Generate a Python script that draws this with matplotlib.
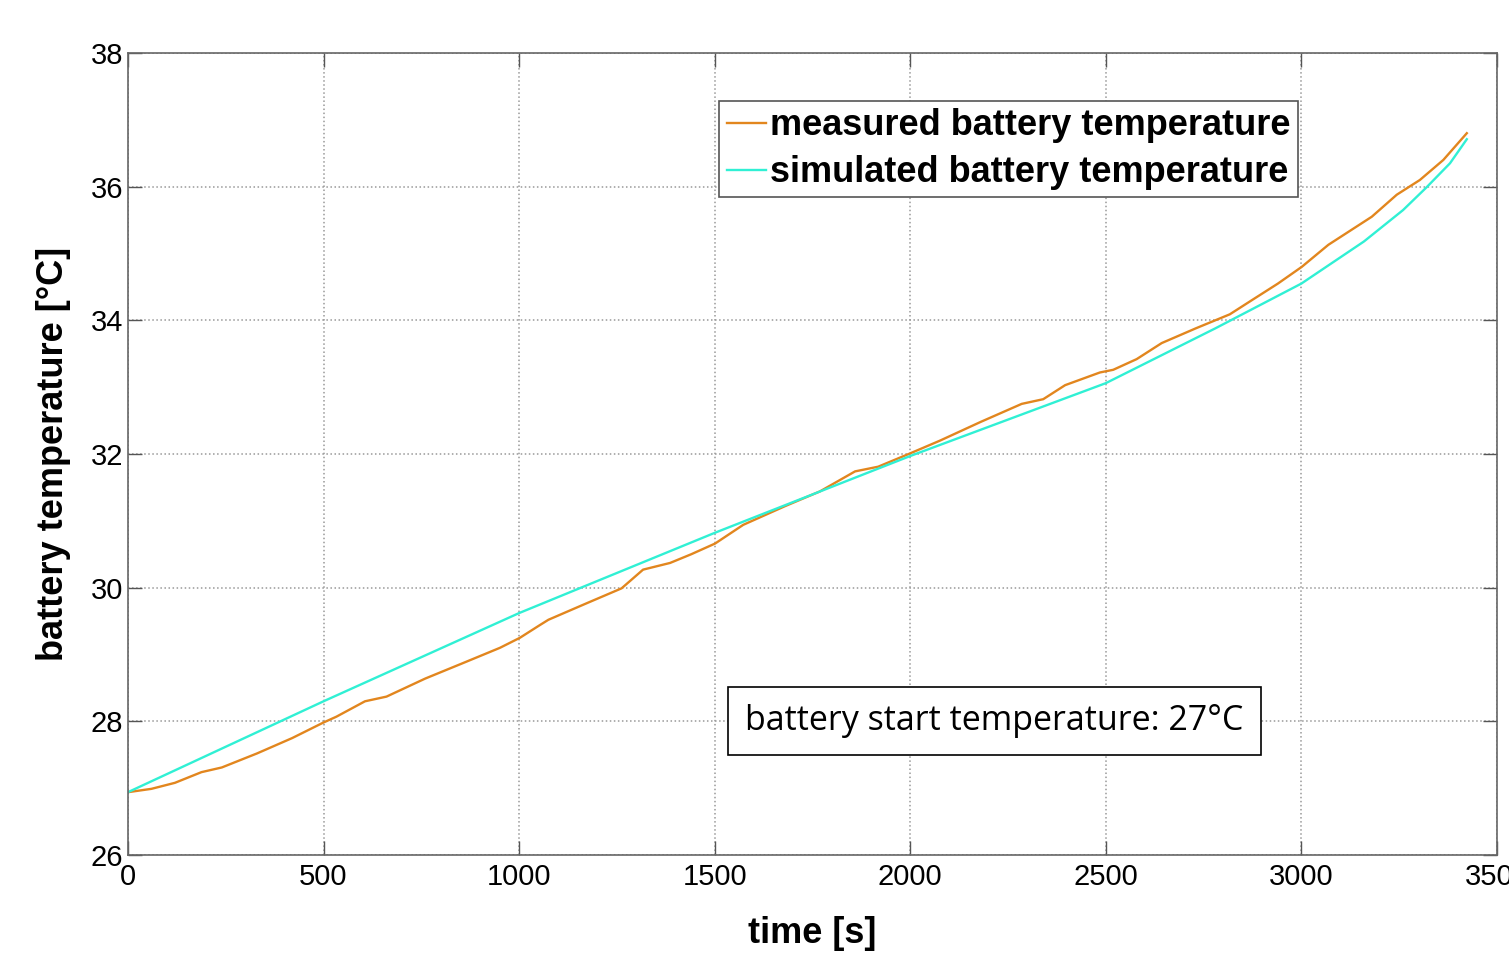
import matplotlib
matplotlib.use('Agg')
from matplotlib import pyplot as plt

# Measured battery temperature
meas_t = [0, 60, 120, 188, 240, 330, 420, 499, 533, 606, 661, 760, 860, 951, 1002, 1053, 1075,
          1170, 1262, 1317, 1386, 1440, 1501, 1573, 1680, 1769, 1859, 1918, 2000, 2076, 2180,
          2285, 2340, 2396, 2485, 2519, 2579, 2643, 2730, 2817, 2873, 2940, 3001, 3069, 3180,
          3244, 3303, 3363, 3423]
meas_T = [26.94, 26.99, 27.08, 27.24, 27.31, 27.52, 27.75, 27.98, 28.07, 28.30, 28.37, 28.64,
          28.88, 29.10, 29.25, 29.44, 29.52, 29.76, 29.99, 30.27, 30.37, 30.50, 30.66, 30.94,
          31.22, 31.44, 31.74, 31.81, 32.01, 32.20, 32.48, 32.75, 32.82, 33.03, 33.22, 33.26,
          33.42, 33.66, 33.88, 34.09, 34.30, 34.55, 34.80, 35.13, 35.55, 35.88, 36.10, 36.40,
          36.80]

# Simulated battery temperature
sim_t = [0, 500, 1000, 1500, 2000, 2500, 2780, 3000, 3160, 3260, 3320, 3380, 3423]
sim_T = [26.94, 28.30, 29.62, 30.82, 31.97, 33.06, 33.88, 34.55, 35.18, 35.65, 35.99, 36.35, 36.71]

x_ticks = [0, 500, 1000, 1500, 2000, 2500, 3000, 3500]
y_ticks = [26, 28, 30, 32, 34, 36, 38]

plt.rcParams['font.family'] = ['Liberation Sans', 'DejaVu Sans']

fig = plt.figure(figsize=(15.09, 9.55), dpi=100)
ax = fig.add_axes([0.0848, 0.1047, 0.9072, 0.8398])

ax.plot(meas_t, meas_T, color='#E2861E', lw=1.7, label='measured battery temperature')
ax.plot(sim_t, sim_T, color='#30F0D4', lw=1.7, label='simulated battery temperature')

ax.set_xlim(0, 3500)
ax.set_ylim(26, 38)
ax.set_xticks(x_ticks)
ax.set_yticks(y_ticks)
ax.tick_params(direction='in', length=10, width=1, colors='#555555', labelcolor='black',
               labelsize=21, top=True, right=True)
ax.tick_params(axis='x', pad=6)
for s in ax.spines.values():
    s.set_color('#666666')
    s.set_linewidth(1.2)
ax.grid(True, linestyle=':', color='#999999', linewidth=1.1)

ax.set_xlabel('time [s]', fontsize=26, fontweight='bold', labelpad=18)
ax.set_ylabel('battery temperature [°C]', fontsize=26, fontweight='bold', labelpad=14)

leg = ax.legend(loc='upper left', bbox_to_anchor=(0.432, 0.94),
                prop={'weight': 'bold', 'size': 26}, fancybox=False, framealpha=1,
                edgecolor='#555555', handlelength=1.1, handletextpad=0.1,
                borderpad=0.2, labelspacing=0.33, borderaxespad=0)
leg.get_frame().set_linewidth(1.2)

ax.text(0.633, 0.167, 'battery start temperature: 27°C', transform=ax.transAxes,
        fontsize=24.5, family=['Open Sans', 'DejaVu Sans'], ha='center', va='center',
        bbox=dict(boxstyle='square,pad=0.5', fc='white', ec='black', lw=1.2))

fig.savefig('out.png', dpi=100)
